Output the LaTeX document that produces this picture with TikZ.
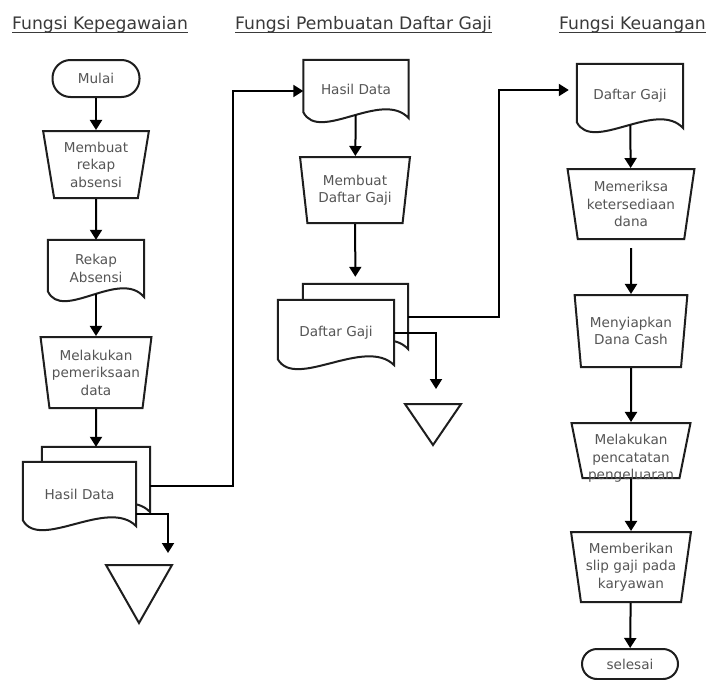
\documentclass[tikz,border=0pt]{standalone}
\usepackage{fontspec}
\setmainfont{DejaVu Sans}
\usetikzlibrary{shapes.geometric, arrows.meta, calc}
\pgfdeclarelayer{bg}
\pgfsetlayers{bg,main}

\definecolor{ink}{HTML}{1E1E1E}
\definecolor{txt}{HTML}{555555}
\definecolor{hdr}{HTML}{3A3A3A}

\tikzset{
  every node/.style={text=txt, font=\fontsize{13.6}{17.5}\selectfont, align=center, inner sep=0pt},
  box/.style={draw=ink, line width=2pt, fill=white},
  proc/.style={box, trapezium, trapezium stretches=true, trapezium angle=79.5, shape border rotate=180},
  term/.style={box, rectangle, rounded corners=16pt},
  docnode/.style={rectangle, draw=none},
  conn/.style={draw=black, line width=2pt, -{Triangle[length=10pt,width=12pt]}},
  hdrtext/.style={text=hdr, font=\fontsize{17.2}{20}\selectfont, anchor=base west},
  hdrline/.style={draw=hdr, line width=1.3pt},
}

% document outline (straight top, wavy bottom) around a named node
\newcommand\docshape[1]{%
  \begin{pgfonlayer}{bg}
  \draw[box] (#1.north west) -- (#1.north east) -- (#1.south east)
    .. controls ($(#1.south east)!0.25!(#1.south west)+(0,-29)$)
           and ($(#1.south east)!0.85!(#1.south west)+(0,25)$)
    .. ($(#1.south west)+(0,-6)$) -- cycle;
  \end{pgfonlayer}}

% header with underline
\newcommand\header[3]{%
  \node[hdrtext] (#1) at (#2) {#3};
  \draw[hdrline] ($(#1.base west)+(0,2.5)$) -- ($(#1.base east)+(0,2.5)$);}

\begin{document}
\begin{tikzpicture}[x=1pt, y=-1pt]
\begin{pgfonlayer}{bg}
  \fill[white] (0,0) rectangle (710,680);
\end{pgfonlayer}
\useasboundingbox (0,0) rectangle (710,680);

% column headers
\header{h1}{12,30}{Fungsi Kepegawaian}
\header{h2}{235,30}{Fungsi Pembuatan Daftar Gaji}
\header{h3}{559,30}{Fungsi Keuangan}

% ---- Fungsi Kepegawaian
\node[term, minimum width=87pt, minimum height=37pt, rounded corners=18pt] (mulai) at (96,78.5) {Mulai};
\node[proc, minimum width=106pt, minimum height=67pt] (rekapbuat) at (96,164.5) {Membuat\\rekap\\absensi};
\node[docnode, minimum width=96pt, minimum height=57pt] (rekap) at (96,268.5) {Rekap\\Absensi};
\docshape{rekap}
\node[proc, minimum width=111pt, minimum height=71pt] (periksa) at (96,372.5) {Melakukan\\pemeriksaan\\data};
\node[docnode, minimum width=108pt, minimum height=65pt] (hasilB) at (96,479.5) {};
\docshape{hasilB}
\node[docnode, minimum width=113pt, minimum height=64pt] (hasilF) at (79.5,494) {Hasil Data};
\docshape{hasilF}
\coordinate (sink1) at (139,565);
\draw[box] ($(sink1)+(-33,0)$) -- ($(sink1)+(33,0)$) -- ($(sink1)+(0,58)$) -- cycle;
\coordinate (drop1) at (168,553);

\draw[conn] (mulai) -- (rekapbuat);
\draw[conn] (rekapbuat) -- (rekap);
\draw[conn, shorten <=-3pt] (rekap) -- (periksa);
\draw[conn] (periksa) -- (hasilB);
\draw[conn] ($(hasilF.east)+(0,20)$) -| (drop1);

% ---- Fungsi Pembuatan Daftar Gaji
\node[docnode, minimum width=105pt, minimum height=58pt] (hasil2) at (356,89) {Hasil Data};
\docshape{hasil2}
\node[proc, minimum width=110pt, minimum height=66pt] (buatgaji) at (355,190) {Membuat\\Daftar Gaji};
\node[docnode, minimum width=105pt, minimum height=65pt] (gajiB) at (355.5,316.5) {};
\docshape{gajiB}
\node[docnode, minimum width=116pt, minimum height=65pt] (gajiF) at (336,332.5) {Daftar Gaji};
\docshape{gajiF}
\coordinate (sink2) at (433,404);
\draw[box] ($(sink2)+(-28,0)$) -- ($(sink2)+(28,0)$) -- ($(sink2)+(0,41)$) -- cycle;
\coordinate (drop2) at (436,389);

\draw[conn, shorten <=-3pt] (hasil2) -- (buatgaji);
\draw[conn, shorten >=7pt] (buatgaji) -- (gajiB);
\draw[conn] ($(hasilB.east)+(0,6.5)$) -- ++(83,0) |- ($(hasil2.west)+(0,2)$);
\draw[conn] ($(gajiF.east)+(0,0.5)$) -| (drop2);

% ---- Fungsi Keuangan
\node[docnode, minimum width=106pt, minimum height=64pt] (gaji3) at (630,96) {Daftar Gaji};
\docshape{gaji3}
\node[proc, minimum width=127pt, minimum height=70pt] (cekdana) at (631,204) {Memeriksa\\ketersediaan\\dana};
\node[proc, minimum width=113pt, minimum height=72pt] (siapkan) at (631,331) {Menyiapkan\\Dana Cash};
\node[proc, minimum width=119pt, minimum height=55pt] (catat) at (631,450.5)
  {\raisebox{-8pt}[\height][\depth]{\begin{tabular}{@{}c@{}}Melakukan\\pencatatan\\pengeluaran\end{tabular}}};
\node[proc, minimum width=120pt, minimum height=70pt] (slip) at (631,567) {Memberikan\\slip gaji pada\\karyawan};
\node[term, minimum width=96pt, minimum height=30pt, rounded corners=15pt] (selesai) at (630,664) {selesai};

\draw[conn] ($(gajiB.east)+(0,0.5)$) -- ++(91,0) |- ($(gaji3.west)+(-8,-6)$);
\draw[conn, shorten <=-3pt] (gaji3) -- (cekdana);
\draw[conn, shorten <=8pt] (cekdana) -- (siapkan);
\draw[conn] (siapkan) -- (catat);
\draw[conn] (catat) -- (slip);
\draw[conn] (slip) -- (selesai);
\end{tikzpicture}
\end{document}
